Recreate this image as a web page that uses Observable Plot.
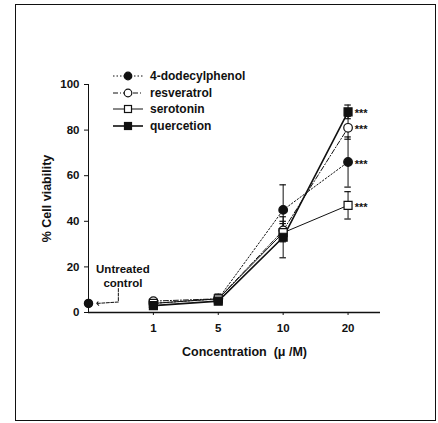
<!DOCTYPE html>
<html>
<head>
<meta charset="utf-8">
<script src="https://cdn.jsdelivr.net/npm/d3@7"></script>
<script src="https://cdn.jsdelivr.net/npm/@observablehq/plot@0.6"></script>
<style>
  body { margin: 0; background: #fff; }
  #wrap { position: relative; width: 438px; height: 423px; font-family: "Liberation Sans", Arial, sans-serif; }
  #border { position: absolute; left: 15px; top: 4px; width: 419px; height: 415px; border: 1.5px solid #111; pointer-events: none; }
  #legend { position: absolute; left: 112px; top: 68px; font-weight: bold; font-size: 12px; color: #111; }
  #legend .row { display: flex; align-items: center; height: 16.5px; }
  #legend svg { margin-right: 6px; }
</style>
</head>
<body>
<div id="wrap"><div id="border"></div><div id="legend"></div></div>
<script>
// Concentrations (categorical positions 0..4)
const concLabels = ["Untreated control", "1", "5", "10", "20"];
const concIndex = [0, 1, 2, 3, 4];

// Series (values at 1, 5, 10, 20 µM) and error half-widths
const seriesNames = ["4-dodecylphenol", "resveratrol", "serotonin", "quercetion"];
const dodecylphenol = [4, 6, 45, 66];
const dodecylphenolErr = [1, 2, 11, 11];
const resveratrol = [5, 6, 36, 81];
const resveratrolErr = [1, 1, 4, 5];
const serotonin = [4, 6, 35, 47];
const serotoninErr = [1, 2, 4, 6];
const quercetion = [3, 5, 33, 88];
const quercetionErr = [1, 1, 9, 3];

// Untreated control
const controlValue = 4;

// Annotation text & bracket path (data coordinates)
const annotationLines = ["Untreated", "control"];
const annotationTextPos = [{x: 0.53, y: 19}, {x: 0.53, y: 13}];
const bracketPath = [{x: 0.46, y: 10.5}, {x: 0.46, y: 4.6}, {x: 0.14, y: 4}];

const yTicks = [0, 20, 40, 60, 80, 100];

const styles = {
  "4-dodecylphenol": {dash: "1.5,2", width: 1, symbol: "circle", fill: "#111"},
  "resveratrol": {dash: "5,2,1,2", width: 1, symbol: "circle", fill: "#fff"},
  "serotonin": {dash: null, width: 1, symbol: "square", fill: "#fff"},
  "quercetion": {dash: null, width: 1.6, symbol: "square", fill: "#111"}
};

const seriesVals = [dodecylphenol, resveratrol, serotonin, quercetion];
const seriesErrs = [dodecylphenolErr, resveratrolErr, serotoninErr, quercetionErr];
const rows = [];
seriesNames.forEach((name, s) => {
  seriesVals[s].forEach((v, i) => {
    rows.push({series: name, x: concIndex[i + 1], y: v, err: seriesErrs[s][i]});
  });
});

const marks = [];
marks.push(Plot.ruleY([0], {x1: 0, x2: 4.5, stroke: "#111", strokeWidth: 1.3}));
marks.push(Plot.ruleX([0], {y1: 0, y2: 100, stroke: "#111", strokeWidth: 1}));
for (const name of seriesNames) {
  const st = styles[name];
  marks.push(Plot.line(rows.filter(d => d.series === name), {
    x: "x", y: "y", stroke: "#111", strokeWidth: st.width,
    strokeDasharray: st.dash
  }));
}
marks.push(Plot.ruleX(rows, {x: "x", y1: d => d.y - d.err, y2: d => d.y + d.err, stroke: "#111", strokeWidth: 1}));
marks.push(Plot.ruleY(rows, {y: d => d.y + d.err, x1: d => d.x - 0.05, x2: d => d.x + 0.05, stroke: "#111", strokeWidth: 1.2}));
marks.push(Plot.ruleY(rows, {y: d => d.y - d.err, x1: d => d.x - 0.05, x2: d => d.x + 0.05, stroke: "#111", strokeWidth: 1.2}));
for (const name of seriesNames) {
  const st = styles[name];
  marks.push(Plot.dot(rows.filter(d => d.series === name), {
    x: "x", y: "y", symbol: st.symbol, r: st.symbol === "circle" ? 4.3 : 4.5,
    fill: st.fill, stroke: "#111", strokeWidth: 1.2
  }));
}
marks.push(Plot.text(rows.filter(d => d.x === 4), {
  x: "x", y: "y", text: () => "***", dx: 13, dy: 2, fontSize: 11, fontWeight: "bold", fill: "#111"
}));
marks.push(Plot.dot([{x: concIndex[0], y: controlValue}], {x: "x", y: "y", r: 4, fill: "#111", stroke: "#111"}));
marks.push(Plot.text(annotationLines.map((t, i) => ({...annotationTextPos[i], t})), {
  x: "x", y: "y", text: "t", fontSize: 11.5, fontWeight: "bold", fill: "#111"
}));
marks.push(Plot.line(bracketPath, {x: "x", y: "y", stroke: "#111", strokeWidth: 1, strokeDasharray: "3,1.5", markerEnd: "arrow"}));
marks.push(Plot.axisY({ticks: yTicks, tickSize: 4, tickPadding: 5, fontSize: 11.5, fontWeight: "bold",
  label: "% Cell viability", labelAnchor: "center", labelArrow: "none", labelOffset: 46}));
marks.push(Plot.axisX({ticks: [1, 2, 3, 4], tickFormat: i => concLabels[i], tickSize: 3, tickPadding: 8,
  fontSize: 11.5, fontWeight: "bold", label: "Concentration  (\u03BC /M)", labelAnchor: "center", labelArrow: "none", labelOffset: 43}));

const chart = Plot.plot({
  width: 438, height: 423,
  marginLeft: 88, marginRight: 58, marginTop: 84, marginBottom: 111,
  style: {fontFamily: "Liberation Sans, Arial, sans-serif", fontSize: "11px", fontWeight: "bold", color: "#111", background: "transparent"},
  x: {type: "linear", domain: [0, 4.5]},
  y: {domain: [0, 100]},
  marks
});
chart.style.position = "absolute";
chart.style.left = "0px";
chart.style.top = "0px";
chart.querySelectorAll("[aria-label='y-axis label'] text, [aria-label='x-axis label'] text").forEach(t => {
  t.setAttribute("font-size", "12.5"); t.setAttribute("font-weight", "bold");
});
const xl = chart.querySelector("[aria-label='x-axis label']");
if (xl) xl.setAttribute("transform", (xl.getAttribute("transform") || "") + " translate(10,0)");
document.getElementById("wrap").insertBefore(chart, document.getElementById("border"));

const legend = document.getElementById("legend");
for (const name of seriesNames) {
  const st = styles[name];
  const row = document.createElement("div");
  row.className = "row";
  const ns = "http://www.w3.org/2000/svg";
  const svg = document.createElementNS(ns, "svg");
  svg.setAttribute("width", 32); svg.setAttribute("height", 12);
  const ln = document.createElementNS(ns, "line");
  ln.setAttribute("x1", 1); ln.setAttribute("x2", 31); ln.setAttribute("y1", 6); ln.setAttribute("y2", 6);
  ln.setAttribute("stroke", "#111"); ln.setAttribute("stroke-width", st.width);
  if (st.dash) ln.setAttribute("stroke-dasharray", st.dash);
  svg.appendChild(ln);
  let m;
  if (st.symbol === "circle") {
    m = document.createElementNS(ns, "circle");
    m.setAttribute("cx", 16); m.setAttribute("cy", 6); m.setAttribute("r", 3.8);
  } else {
    m = document.createElementNS(ns, "rect");
    m.setAttribute("x", 12.5); m.setAttribute("y", 2.5); m.setAttribute("width", 7); m.setAttribute("height", 7);
  }
  m.setAttribute("fill", st.fill); m.setAttribute("stroke", "#111"); m.setAttribute("stroke-width", 1.2);
  svg.appendChild(m);
  row.appendChild(svg);
  const span = document.createElement("span");
  span.textContent = name;
  row.appendChild(span);
  legend.appendChild(row);
}
</script>
</body>
</html>
